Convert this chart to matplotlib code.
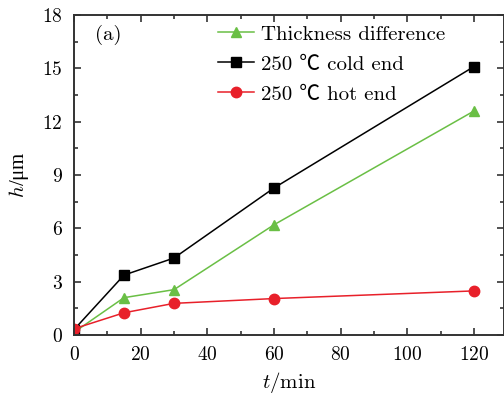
import matplotlib
matplotlib.use('Agg')
import matplotlib.pyplot as plt
from matplotlib.ticker import MultipleLocator

t = [0, 15, 30, 60, 120]
thickness_diff = [0.15, 2.1, 2.55, 6.2, 12.6]
cold_end = [0.3, 3.37, 4.33, 8.27, 15.1]
hot_end = [0.35, 1.25, 1.78, 2.05, 2.48]

plt.rcParams['font.family'] = ['cmr10', 'Noto Sans CJK SC', 'DejaVu Serif']
plt.rcParams['mathtext.fontset'] = 'cm'
plt.rcParams['axes.formatter.use_mathtext'] = True
plt.rcParams['font.size'] = 14

fig = plt.figure(figsize=(5.04, 4.0), dpi=100)
ax = fig.add_axes([0.1468, 0.1625, 0.8532, 0.8])

ax.plot(t, thickness_diff, color='#6abf45', marker='^', markersize=7.5, lw=1.1,
        label='Thickness difference')
ax.plot(t, cold_end, color='black', marker='s', markersize=6.5, lw=1.1,
        label='250 ℃ cold end')
ax.plot(t, hot_end, color='#e8202a', marker='o', markersize=7.5, lw=1.1,
        label='250 ℃ hot end')

ax.set_xlim(0, 129)
ax.set_ylim(0, 18)
ax.xaxis.set_major_locator(MultipleLocator(20))
ax.xaxis.set_minor_locator(MultipleLocator(10))
ax.yaxis.set_major_locator(MultipleLocator(3))
ax.yaxis.set_minor_locator(MultipleLocator(1.5))
ax.tick_params(which='both', direction='in', top=True, right=True,
               color='#333333', width=1.2)
ax.tick_params(which='major', length=5, pad=8, labelsize=14)
ax.tick_params(which='minor', length=3)
for s in ax.spines.values():
    s.set_color('#333333')
    s.set_linewidth(1.4)

ax.set_xlabel(r'$t/$min', fontsize=15, labelpad=4)
ax.set_ylabel(r'$h$/μm', fontsize=15, labelpad=8,
              family=['Liberation Serif'])
ax.text(0.049, 0.937, '(a)', transform=ax.transAxes, va='center', fontsize=15)

ax.legend(loc='upper left', bbox_to_anchor=(0.316, 0.995), frameon=False,
          fontsize=15, borderaxespad=0, handlelength=1.7, handletextpad=0.35,
          labelspacing=0.55)

fig.savefig('out.png', dpi=100)
